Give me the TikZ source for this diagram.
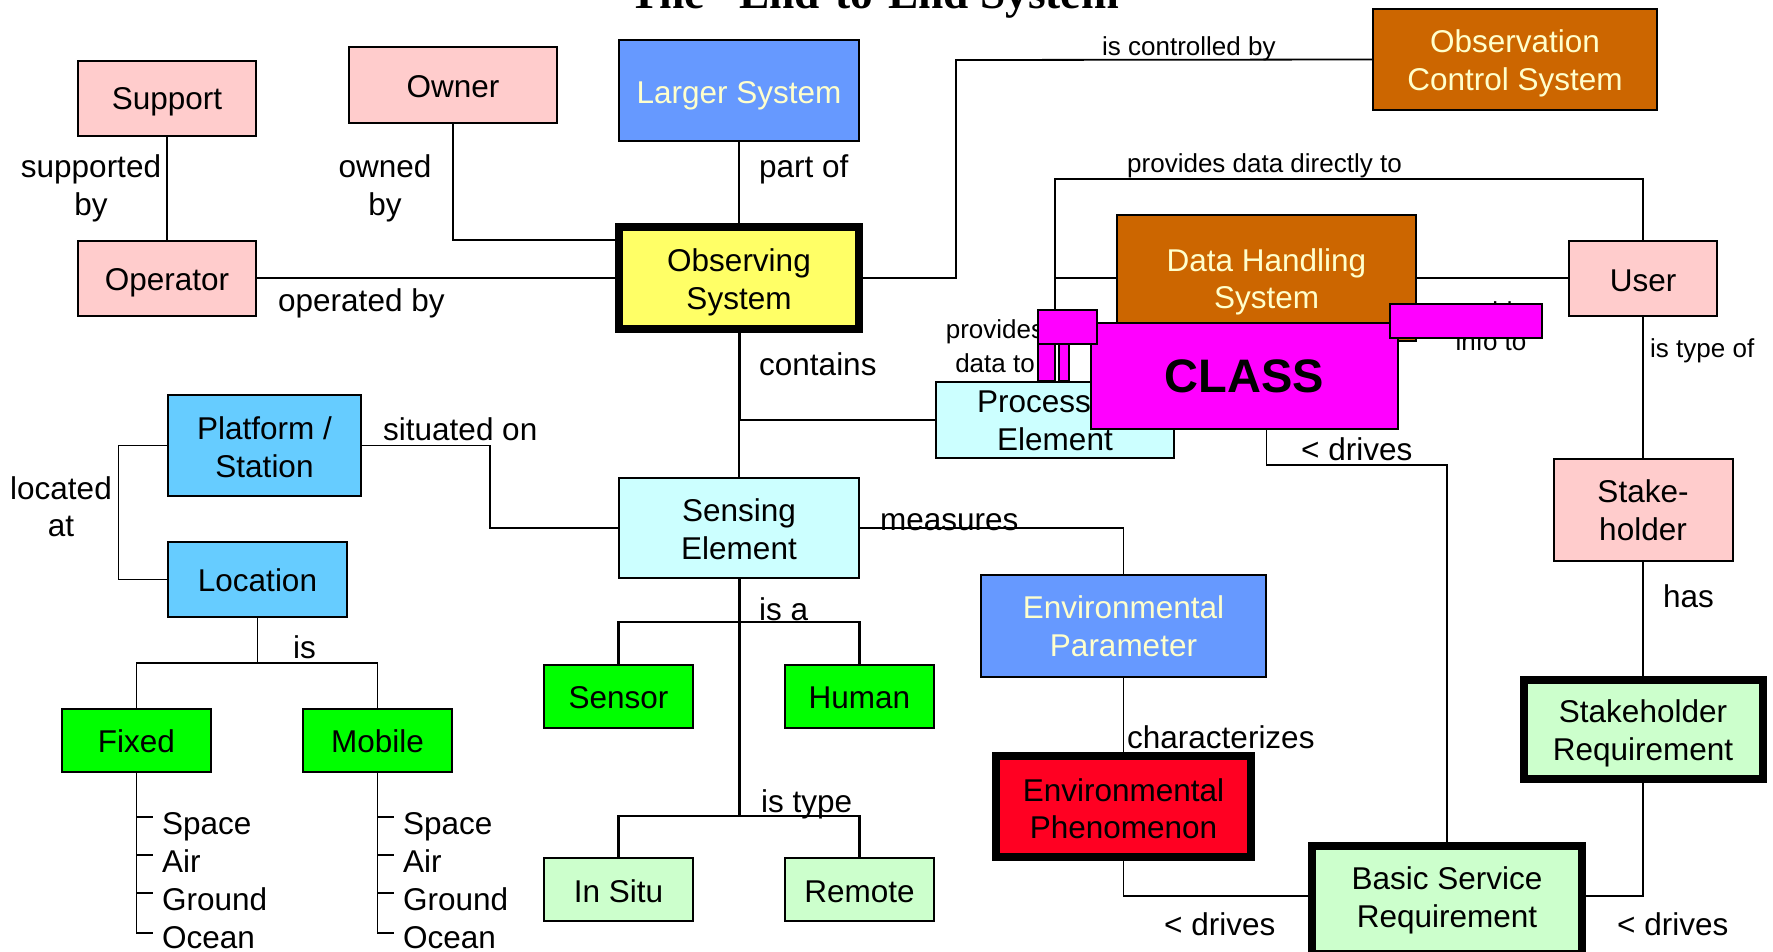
\documentclass[tikz,border=0pt]{standalone}
\usepackage{fontspec}
\setmainfont{Liberation Sans}
\newfontfamily\titleserif{Liberation Serif}
\usetikzlibrary{calc}

\definecolor{pinkbox}{HTML}{FFCCCC}
\definecolor{bluebox}{HTML}{6699FF}
\definecolor{skybox}{HTML}{66CCFF}
\definecolor{cyanbox}{HTML}{CCFFFF}
\definecolor{yellowbox}{HTML}{FFFF66}
\definecolor{orangebox}{HTML}{CC6600}
\definecolor{greenbox}{HTML}{00FF00}
\definecolor{palegreen}{HTML}{CCFFCC}
\definecolor{redbox}{HTML}{FF0022}
\definecolor{magentabox}{HTML}{FF00FF}
\definecolor{cream}{HTML}{FFFFCC}

\newcommand\dgmfont{\fontsize{31.5}{37.8}\selectfont}
\newcommand\dgmsmall{\fontsize{26}{30}\selectfont}
% taller first line: lowers the text block inside its box
\newcommand\dgmdrop[1]{\rule{0pt}{#1pt}}

\begin{document}
\begin{tikzpicture}[x=1pt,y=-1pt,
  box/.style={draw=black, line width=2pt, align=center, inner sep=0pt,
              font=\dgmfont, text=black},
  heavy/.style={box, line width=8pt},
  lbl/.style={inner sep=0pt, font=\dgmfont, anchor=base west},
  lblc/.style={inner sep=0pt, font=\dgmfont, anchor=base},
  slbl/.style={inner sep=0pt, font=\dgmsmall, anchor=base west},
  slblc/.style={inner sep=0pt, font=\dgmsmall, anchor=base},
  link/.style={line width=1.8pt},
  trunk/.style={line width=3pt},
  patch/.style={fill=magentabox, draw=black, line width=2pt},
]
\useasboundingbox (0,0) rectangle (1773,951);
\clip (0,0) rectangle (1773,951);

% title (runs off the top edge)
\node[font=\titleserif\bfseries\fontsize{45.4}{50}\selectfont, anchor=base, inner sep=0pt]
  (title) at (885.5,8) {The “End-to-End System”};

% ---------- boxes ----------
\node[box, fill=pinkbox, minimum width=178, minimum height=75] (support) at (167,98.5) {\dgmdrop{29.4}Support};
\node[box, fill=pinkbox, minimum width=208, minimum height=76] (owner) at (453,85) {\dgmdrop{24.8}Owner};
\node[box, fill=bluebox, text=cream, minimum width=240, minimum height=101] (larger) at (739,90.5) {\dgmdrop{31.6}Larger System};
\node[box, fill=orangebox, text=cream, minimum width=284, minimum height=101] (ocs) at (1515,59.5) {\dgmdrop{29.8}Observation\\Control System};
\node[box, fill=pinkbox, minimum width=178, minimum height=75] (operator) at (167,278) {\dgmdrop{31.6}Operator};
\node[heavy, fill=yellowbox, minimum width=240, minimum height=102] (obs) at (739,278) {\dgmdrop{31.6}Observing\\System};
\node[box, fill=orangebox, text=cream, minimum width=299, minimum height=126] (dhs) at (1266.5,278) {\dgmdrop{30.6}Data Handling\\System};
\node[box, fill=pinkbox, minimum width=148, minimum height=75] (user) at (1643,278) {\dgmdrop{27.2}User};
\node[box, fill=cyanbox, minimum width=238, minimum height=76] (pe) at (1055,420) {Processing\\Element};
\node[box, fill=skybox, minimum width=193, minimum height=101] (platform) at (264.5,445.5) {\dgmdrop{26}Platform /\\Station};
\node[box, fill=cyanbox, minimum width=240, minimum height=100] (se) at (739,528) {\dgmdrop{26}Sensing\\Element};
\node[box, fill=pinkbox, minimum width=179, minimum height=102] (stakeholder) at (1643,510) {Stake-\\holder};
\node[box, fill=skybox, minimum width=179, minimum height=75] (location) at (257.5,579.5) {\dgmdrop{24.9}Location};
\node[box, fill=bluebox, text=cream, minimum width=285, minimum height=102] (ep) at (1123.5,626) {Environmental\\Parameter};
\node[box, fill=greenbox, minimum width=149, minimum height=63] (sensor) at (618.5,696.5) {\dgmdrop{24.9}Sensor};
\node[box, fill=greenbox, minimum width=149, minimum height=63] (human) at (859.5,696.5) {\dgmdrop{24.9}Human};
\node[box, fill=greenbox, minimum width=149, minimum height=63] (fixed) at (136.5,740.5) {\dgmdrop{24.9}Fixed};
\node[box, fill=greenbox, minimum width=149, minimum height=63] (mobile) at (377.5,740.5) {\dgmdrop{24.9}Mobile};
\node[heavy, fill=palegreen, minimum width=239, minimum height=99] (stakereq) at (1643,729.5) {\dgmdrop{30.6}Stakeholder\\Requirement};
\node[heavy, fill=redbox, minimum width=255, minimum height=101] (eph) at (1123.5,806.5) {\dgmdrop{27.2}Environmental\\Phenomenon};
\node[box, fill=palegreen, minimum width=149, minimum height=63] (insitu) at (618.5,889.5) {\dgmdrop{27.2}In Situ};
\node[box, fill=palegreen, minimum width=149, minimum height=63] (remote) at (859.5,889.5) {\dgmdrop{27.2}Remote};
\node[heavy, fill=palegreen, minimum width=270, minimum height=108] (bsr) at (1447,900) {Basic Service\\Requirement};

% ---------- turning points ----------
\coordinate (ctl) at (956,60);
\coordinate (cbr) at (739,420);
\coordinate (pdd) at (1055,179);
\coordinate (drv) at (1266.5,465);
\coordinate (ab) at (739,622);
\coordinate (tb) at (739,816);
\coordinate (lb) at (257.5,663);
\coordinate (la) at (118.5,445.5);
\coordinate (sit) at (490,445.5);

% ---------- connectors ----------
\draw[link] (support) -- (operator);
\draw[link] (owner.south) |- ([yshift=38pt]obs.west);
\draw[link] (larger) -- (obs);
\draw[link] (operator) -- (obs);
\draw[link] (obs.east) -| (ctl) -- (ocs.west);
\draw[trunk] (obs.south) -- (cbr);
\draw[link] (cbr) -- (se.north);
\draw[link] (cbr) -- (pe.west);
\draw[link] (pe.north) -- (pdd) -| (user.north);
\draw[link] (pe.north) |- (dhs.west);
\draw[link] (dhs.east) -- (user.west);
\draw[link] (dhs.south) -- (drv) -| (bsr.north);
\draw[link] (user) -- (stakeholder);
\draw[link] (stakeholder) -- (stakereq);
\draw[link] (stakereq.south) |- ([yshift=4pt]bsr.east);
\draw[link] (se.east) -| (ep.north);
\draw[link] (ep) -- (eph);
\draw[link] (eph.south) |- ([yshift=4pt]bsr.west);
\draw[trunk] (se.south) -- (tb);
\draw[line width=2.2pt] (sensor.north) |- (ab) -| (human.north);
\draw[line width=2.6pt] (insitu.north) |- (tb) -| (remote.north);
\draw[link] (location.south) -- (lb);
\draw[link] (fixed.north) |- (lb) -| (mobile.north);
\draw[link] (platform.west) -- (la) |- (location.west);
\draw[link] (platform.east) -- (sit) |- (se.west);

% place lists under Fixed and Mobile
\draw[link] (fixed.south) -- ($(fixed.south)+(0,160)$) -- ++(16,0);
\draw[link] (mobile.south) -- ($(mobile.south)+(0,160)$) -- ++(16,0);
\foreach \dy in {44,82,120}{
  \draw[link] ($(fixed.south)+(0,\dy)$) -- ++(16,0);
  \draw[link] ($(mobile.south)+(0,\dy)$) -- ++(16,0);
}
\node[lbl] (fspace) at (162,834) {Space};
\node[lbl] (fair) at (162,872) {Air};
\node[lbl] (fground) at (162,910) {Ground};
\node[lbl] (focean) at (162,948) {Ocean};
\node[lbl] (mspace) at (403,834) {Space};
\node[lbl] (mair) at (403,872) {Air};
\node[lbl] (mground) at (403,910) {Ground};
\node[lbl] (mocean) at (403,948) {Ocean};

% ---------- connector labels ----------
\node[lblc] (supp1) at (91,177) {supported};
\node[lblc] (supp2) at (91,215) {by};
\node[lblc] (own1) at (385,177) {owned};
\node[lblc] (own2) at (385,215) {by};
\node[lbl] (partof) at (759,177) {part of};
\node[lbl] (opby) at (278,311) {operated by};
\node[slbl] (ctrl) at (1102,55) {is controlled by};
\node[slbl] (pdirect) at (1127,172) {provides data directly to};
\node[lbl] (contains) at (759,375) {contains};
\node[slblc] (pdata1) at (995,338) {provides};
\node[slblc] (pdata2) at (995,372) {data to};
\node[slblc] (pinfo1) at (1491,320) {provides};
\node[slblc] (pinfo2) at (1491,350) {info to};
\node[slbl] (typeof) at (1650,357) {is type of};
\node[lbl] (has) at (1663,607) {has};
\node[lbl] (drives1) at (1301,460) {< drives};
\node[lbl] (drives2) at (1164,935) {< drives};
\node[lbl] (drives3) at (1617,935) {< drives};
\node[lbl] (situated) at (383,440) {situated on};
\node[lblc] (loc1) at (61,499) {located};
\node[lblc] (loc2) at (61,536) {at};
\node[lbl] (is) at (293,658) {is};
\node[lbl] (measures) at (880,530) {measures};
\node[lbl] (isa) at (759,620) {is a};
\node[lbl] (istype) at (761,812) {is type};
\node[lbl] (charac) at (1127,748) {characterizes};

% ---------- CLASS overlay ----------
\node[box, fill=magentabox, minimum width=307, minimum height=106,
      font=\fontsize{47}{50}\selectfont\bfseries] (class) at (1244.5,376) {CLASS};
\filldraw[patch] (1038,310) rectangle (1097,344);
\filldraw[patch] (1038,344) rectangle (1055,381);
\filldraw[patch] (1059,344) rectangle (1069,381);
\filldraw[patch] (1390,304) rectangle (1542,338);
\end{tikzpicture}
\end{document}
